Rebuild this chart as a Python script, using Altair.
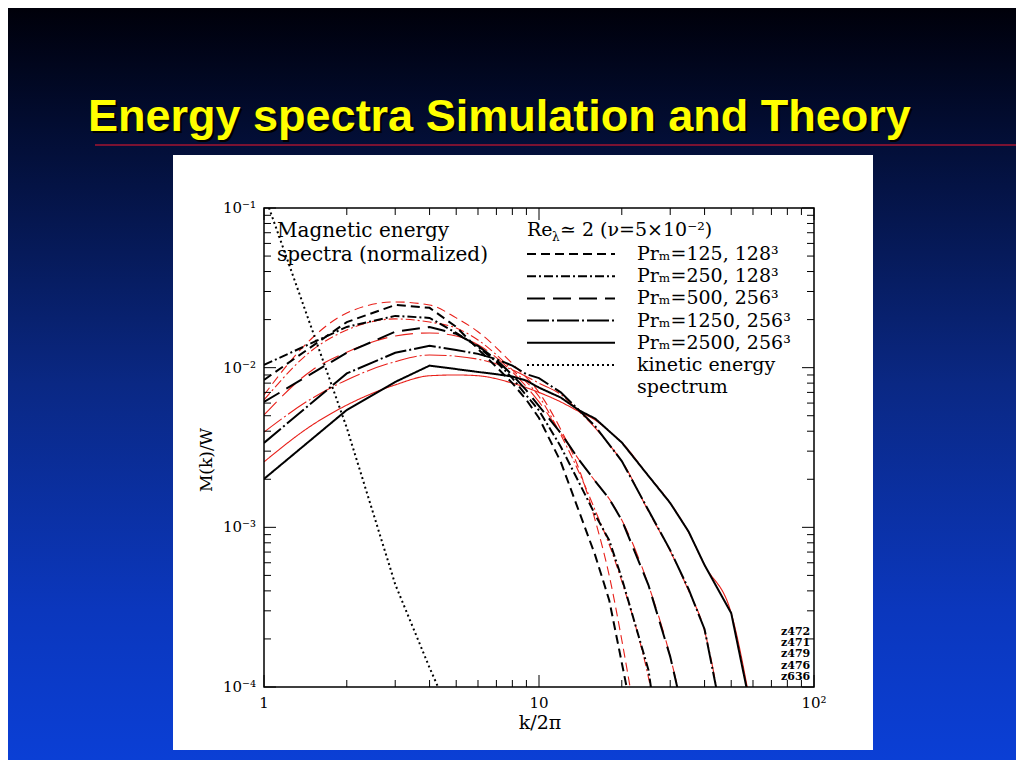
import altair as alt
import pandas as pd

# ---------------- data ----------------
SIM_PR125_K = [1, 2, 3, 4, 5, 6, 7, 8, 9, 10, 12, 14, 16, 18, 20, 22]
SIM_PR125 = [0.00838, 0.0193, 0.0247, 0.0237, 0.0180, 0.0131, 0.0101, 0.0080, 0.00628,
             0.00484, 0.00257, 0.00125, 0.00067, 0.00035, 0.000142, 0.000062]

SIM_PR250_K = [1, 2, 3, 4, 5, 6, 7, 8, 9, 10, 12, 14, 16, 18, 20, 25, 27]
SIM_PR250 = [0.0104, 0.0180, 0.0211, 0.0205, 0.0165, 0.0135, 0.0109, 0.0086, 0.0067,
             0.0054, 0.0032, 0.0019, 0.0012, 0.00083, 0.00048, 0.000128, 0.000051]

SIM_PR500_K = [1, 2, 3, 4, 5, 6, 7, 8, 9, 10, 12, 14, 16, 18, 20, 25, 30, 35]
SIM_PR500 = [0.0061, 0.0124, 0.0168, 0.0180, 0.0163, 0.0137, 0.0112, 0.0090, 0.0072,
             0.00575, 0.0039, 0.00264, 0.00195, 0.00151, 0.00111, 0.000435, 0.000155, 0.000049]

SIM_PR1250_K = [1, 2, 3, 4, 5, 6, 7, 8, 9, 10, 12, 14, 16, 18, 20, 25, 30, 35, 40, 45]
SIM_PR1250 = [0.00338, 0.0092, 0.0124, 0.0137, 0.0129, 0.0122, 0.0113, 0.0103, 0.0091,
              0.0086, 0.0070, 0.0054, 0.0043, 0.0033, 0.0026, 0.00128, 0.00072, 0.00041,
              0.00023, 0.000083]

SIM_PR2500_K = [1, 2, 3, 4, 5, 6, 7, 8, 9, 10, 12, 14, 16, 18, 20, 25, 30, 35, 40, 50, 60]
SIM_PR2500 = [0.00201, 0.00543, 0.00814, 0.0103, 0.0098, 0.0094, 0.0091, 0.0088, 0.0083,
              0.0075, 0.0065, 0.0054, 0.0048, 0.0040, 0.0034, 0.0021, 0.00142, 0.00094,
              0.00058, 0.00029, 0.000063]

KIN_K = [1, 2, 3, 4, 5]
KIN = [0.123, 0.0042, 0.00044, 0.000132, 0.000055]

TH_PR125_K = [1, 1.5, 2, 3, 4, 5, 6, 8, 10, 12, 14, 16, 18, 20, 22]
TH_PR125 = [0.00675, 0.0154, 0.0220, 0.0258, 0.0247, 0.0205, 0.0168, 0.0106, 0.0070,
            0.0041, 0.0023, 0.00111, 0.0005, 0.000197, 0.000077]

TH_PR250_K = [1, 1.5, 2, 3, 4, 5, 6, 8, 10, 12, 14, 16, 18, 20, 25, 27]
TH_PR250 = [0.00628, 0.0129, 0.0172, 0.0202, 0.0193, 0.0177, 0.0149, 0.0097, 0.0066,
            0.0038, 0.0022, 0.00128, 0.00078, 0.00046, 0.000115, 0.00006]

TH_PR500_K = [1, 1.5, 2, 3, 4, 5, 6, 8, 10, 12, 14, 16, 18, 20, 25, 30, 35]
TH_PR500 = [0.00506, 0.00968, 0.0125, 0.0158, 0.0165, 0.0158, 0.0139, 0.0094, 0.0061,
            0.0039, 0.00264, 0.00195, 0.00151, 0.00111, 0.000435, 0.000155, 0.000049]

TH_PR1250_K = [1, 1.5, 2, 3, 4, 5, 6, 8, 10, 12, 14, 16, 18, 20, 25, 30, 35, 40, 45]
TH_PR1250 = [0.00395, 0.00645, 0.00838, 0.0109, 0.0120, 0.0118, 0.0113, 0.0097, 0.0080,
             0.0068, 0.0053, 0.0042, 0.0033, 0.0026, 0.00126, 0.00071, 0.00040, 0.000225,
             0.000085]

TH_PR2500_K = [1, 1.5, 2, 3, 4, 5, 6, 8, 10, 12, 14, 16, 18, 20, 25, 30, 35, 40, 50, 60]
TH_PR2500 = [0.00257, 0.00438, 0.00583, 0.0078, 0.0089, 0.0090, 0.0089, 0.0080, 0.0070,
             0.0061, 0.0053, 0.0047, 0.0040, 0.0034, 0.0021, 0.00142, 0.00093, 0.00058,
             0.00029, 0.000063]

SERIES = ["Pr125", "Pr250", "Pr500", "Pr1250", "Pr2500", "kin"]
LEGEND_LABELS = ["Prₘ=125, 128³", "Prₘ=250, 128³", "Prₘ=500, 256³",
                 "Prₘ=1250, 256³", "Prₘ=2500, 256³", "kinetic energy"]
RUN_IDS = ["z472", "z471", "z479", "z476", "z636"]

X_MAJOR = [1, 10, 100]
X_LABELS = ["1", "10", "10²"]
X_MINOR = [2, 3, 4, 5, 6, 7, 8, 9, 20, 30, 40, 50, 60, 70, 80, 90]
Y_MAJOR = [0.0001, 0.001, 0.01, 0.1]
Y_LABELS = ["10⁻⁴", "10⁻³", "10⁻²", "10⁻¹"]
Y_MINOR = [0.0002, 0.0003, 0.0004, 0.0005, 0.0006, 0.0007, 0.0008, 0.0009,
           0.002, 0.003, 0.004, 0.005, 0.006, 0.007, 0.008, 0.009,
           0.02, 0.03, 0.04, 0.05, 0.06, 0.07, 0.08, 0.09]

# ---------------- styles ----------------
DASHES = [[9, 5], [9, 3, 2, 3], [18, 8], [22, 3, 2, 3], [1, 0], [2, 3]]
SERIF = "DejaVu Serif"
W, H = 550, 479
PAD = {"left": 256, "top": 200, "right": 202, "bottom": 73}
TOTAL_W = W + PAD["left"] + PAD["right"]
TOTAL_H = H + PAD["top"] + PAD["bottom"]


def long_df(pairs):
    rows = []
    for name, ks, ms in pairs:
        for k, m in zip(ks, ms):
            rows.append({"series": name, "k": k, "M": m})
    return pd.DataFrame(rows)


sim_df = long_df([("Pr125", SIM_PR125_K, SIM_PR125), ("Pr250", SIM_PR250_K, SIM_PR250),
                  ("Pr500", SIM_PR500_K, SIM_PR500), ("Pr1250", SIM_PR1250_K, SIM_PR1250),
                  ("Pr2500", SIM_PR2500_K, SIM_PR2500), ("kin", KIN_K, KIN)])
th_df = long_df([("Pr125", TH_PR125_K, TH_PR125), ("Pr250", TH_PR250_K, TH_PR250),
                 ("Pr500", TH_PR500_K, TH_PR500), ("Pr1250", TH_PR1250_K, TH_PR1250),
                 ("Pr2500", TH_PR2500_K, TH_PR2500)])

xs = alt.Scale(type="log", domain=[1, 100], nice=False)
ys = alt.Scale(type="log", domain=[0.0001, 0.1], nice=False)
dash_scale = alt.Scale(domain=SERIES, range=DASHES)

ONE = pd.DataFrame({"a": [0]})

gradient = alt.LinearGradient(
    gradient="linear", x1=0, x2=0, y1=0, y2=1,
    stops=[alt.GradientStop(offset=0.0, color="#00000a"),
           alt.GradientStop(offset=0.15, color="#020c30"),
           alt.GradientStop(offset=0.5, color="#0a2884"),
           alt.GradientStop(offset=0.8, color="#0b37bd"),
           alt.GradientStop(offset=1.0, color="#0b3fd5")])

bg = alt.Chart(ONE).mark_rect(fill=gradient).encode(
    x=alt.value(-PAD["left"]), x2=alt.value(TOTAL_W - PAD["left"]),
    y=alt.value(-PAD["top"]), y2=alt.value(TOTAL_H - PAD["top"]))

divider = alt.Chart(ONE).mark_rule(color="#7a1232", strokeWidth=2).encode(
    x=alt.value(-169), x2=alt.value(TOTAL_W - PAD["left"]), y=alt.value(-63))

TITLE = "Energy spectra Simulation and Theory"
TITLE_FONT = "Liberation Sans"
title_shadow = alt.Chart(ONE).mark_text(
    text=TITLE, font=TITLE_FONT, fontWeight="bold", fontSize=45,
    color="#000000", align="left", baseline="alphabetic").encode(
    x=alt.value(-174), y=alt.value(-75))
title_text = alt.Chart(ONE).mark_text(
    text=TITLE, font=TITLE_FONT, fontWeight="bold", fontSize=45,
    color="#ffff00", align="left", baseline="alphabetic").encode(
    x=alt.value(-176), y=alt.value(-77))

panel = alt.Chart(ONE).mark_rect(color="white").encode(
    x=alt.value(-91), x2=alt.value(609), y=alt.value(-53), y2=alt.value(542))

frame = alt.Chart(ONE).mark_rect(fillOpacity=0, stroke="black", strokeWidth=1.5).encode(
    x=alt.value(0), x2=alt.value(W), y=alt.value(0), y2=alt.value(H))


def xticks(values, length):
    d = pd.DataFrame({"v": values})
    bottom = alt.Chart(d).mark_rule(color="black", strokeWidth=1).encode(
        x=alt.X("v:Q", scale=xs, axis=None), y=alt.value(H), y2=alt.value(H - length))
    top = alt.Chart(d).mark_rule(color="black", strokeWidth=1).encode(
        x=alt.X("v:Q", scale=xs, axis=None), y=alt.value(0), y2=alt.value(length))
    return [bottom, top]


def yticks(values, length):
    d = pd.DataFrame({"v": values})
    left = alt.Chart(d).mark_rule(color="black", strokeWidth=1).encode(
        y=alt.Y("v:Q", scale=ys, axis=None), x=alt.value(0), x2=alt.value(length))
    right = alt.Chart(d).mark_rule(color="black", strokeWidth=1).encode(
        y=alt.Y("v:Q", scale=ys, axis=None), x=alt.value(W), x2=alt.value(W - length))
    return [left, right]


ticks = xticks(X_MAJOR, 12) + xticks(X_MINOR, 7) + yticks(Y_MAJOR, 12) + yticks(Y_MINOR, 7)

# tick labels placed through the chart's own log scales
x_lab = alt.Chart(pd.DataFrame({"v": X_MAJOR, "lab": X_LABELS})).mark_text(
    font=SERIF, fontSize=15, color="black", align="center", baseline="middle").encode(
    x=alt.X("v:Q", scale=xs, axis=None), y=alt.value(H + 16), text="lab:N")
y_lab = alt.Chart(pd.DataFrame({"v": Y_MAJOR, "lab": Y_LABELS})).mark_text(
    font=SERIF, fontSize=15, color="black", align="right", baseline="middle").encode(
    y=alt.Y("v:Q", scale=ys, axis=None), x=alt.value(-8), text="lab:N")

x_title = alt.Chart(ONE).mark_text(
    text="k/2π", font=SERIF, fontSize=19, color="black", align="center",
    baseline="middle").encode(x=alt.value(W / 2 + 1), y=alt.value(H + 36))
y_title = alt.Chart(ONE).mark_text(
    text="M(k)/W", font=SERIF, fontSize=17, color="black", align="center",
    baseline="middle", angle=270).encode(x=alt.value(-57), y=alt.value(252))

theory = alt.Chart(th_df).mark_line(clip=True, color="#e8201a", strokeWidth=1.1,
                                    interpolate="monotone").encode(
    x=alt.X("k:Q", scale=xs, axis=None),
    y=alt.Y("M:Q", scale=ys, axis=None),
    strokeDash=alt.StrokeDash("series:N", scale=dash_scale, legend=None),
    detail="series:N")

sim = alt.Chart(sim_df).mark_line(clip=True, color="black", strokeWidth=2).encode(
    x=alt.X("k:Q", scale=xs, axis=None),
    y=alt.Y("M:Q", scale=ys, axis=None),
    strokeDash=alt.StrokeDash("series:N", scale=dash_scale, legend=None),
    detail="series:N")


def label(text, x, y, size=19, **kw):
    props = dict(text=text, font=SERIF, fontSize=size, color="black",
                 align="left", baseline="middle")
    props.update(kw)
    return alt.Chart(ONE).mark_text(**props).encode(x=alt.value(x), y=alt.value(y))


texts = [
    label("Magnetic energy", 13, 23, size=20),
    label("spectra (normalized)", 13, 47, size=20),
    label("Re", 263, 22),
    label("λ", 288, 29, size=12),
    label("≃ 2  (ν=5×10⁻²)", 296, 22),
    label("spectrum", 373, 179.2),
]

LEG_Y = [46, 68.2, 90.4, 112.6, 134.8, 157]
legend_layers = []
for name, dash, lab, yy in zip(SERIES, DASHES, LEGEND_LABELS, LEG_Y):
    legend_layers.append(
        alt.Chart(ONE).mark_rule(color="black", strokeWidth=2, strokeDash=dash).encode(
            x=alt.value(263), x2=alt.value(351), y=alt.value(yy)))
    legend_layers.append(label(lab, 373, yy))

RUN_Y = [424, 435, 446, 458, 469]
runs = [label(r, 517, yy, size=11, fontWeight="bold") for r, yy in zip(RUN_IDS, RUN_Y)]

chart = alt.layer(
    bg, divider, title_shadow, title_text, panel,
    theory, sim, *ticks, frame, x_lab, y_lab, x_title, y_title,
    *texts, *legend_layers, *runs
).properties(
    width=W, height=H,
    autosize=alt.AutoSizeParams(type="none"),
    padding=PAD,
).configure_view(stroke=None)

chart.save("out.html", embed_options={"renderer": "svg", "actions": False})
